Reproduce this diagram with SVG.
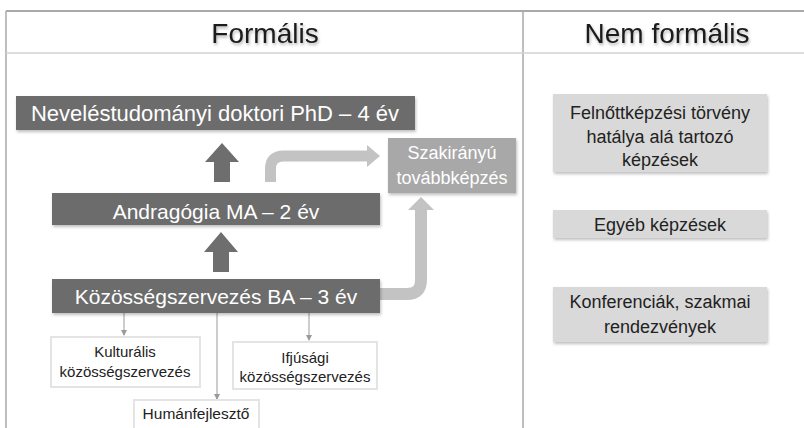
<svg xmlns="http://www.w3.org/2000/svg" width="804" height="428" viewBox="0 0 804 428">
<defs>
<style>
text{font-family:"Liberation Sans",Arial,sans-serif;text-anchor:middle}
.hd{font-size:28px;fill:#1a1a1a}
.dk{fill:#6c6c6c}
.wt{fill:#ffffff}
.lt{fill:#ffffff;stroke:#e4e4e4;stroke-width:2}
.gr{fill:#d9d9d9}
.md{fill:#a8a8a8}
.tw{fill:#ffffff}
.tb{fill:#222222}
.tl{stroke:#a9a9a9;fill:none}
.bent{fill:none;stroke:#c3c3c3}
.thin{stroke:#9a9a9a;stroke-width:1;fill:none;marker-end:url(#ah)}
</style>
<marker id="ah" viewBox="0 0 6 6" refX="5" refY="3" markerWidth="6" markerHeight="6" orient="auto" markerUnits="userSpaceOnUse">
<path d="M0,0 L6,3 L0,6 Z" fill="#9a9a9a"/>
</marker>
<filter id="sh" x="-5%" y="-20%" width="110%" height="140%">
<feDropShadow dx="1" dy="2" stdDeviation="1.5" flood-color="#000" flood-opacity="0.25"/>
</filter>
<filter id="ts" x="-10%" y="-30%" width="120%" height="160%">
<feDropShadow dx="1" dy="2" stdDeviation="1.5" flood-color="#000" flood-opacity="0.3"/>
</filter>
</defs>
<rect width="804" height="428" fill="#ffffff"/>
<g id="table">
<line class="tl" x1="6" y1="11" x2="804" y2="11" stroke-width="2"/>
<line class="tl" x1="6" y1="11" x2="6" y2="428" stroke-width="1.5"/>
<line class="tl" x1="523" y1="11" x2="523" y2="428" stroke-width="1.5"/>
<line x1="6" y1="53" x2="804" y2="53" stroke="#d2d2d2" stroke-width="1.5"/>
<text class="hd" x="265" y="43" filter="url(#ts)">Formális</text>
<text class="hd" x="667" y="43" filter="url(#ts)">Nem formális</text>
</g>
<g id="connectors">
<polygon fill="#6e6e6e" points="222,143 205,162 214,162 214,182 230,182 230,162 239,162"/>
<polygon fill="#6e6e6e" points="221,232 204,252 213,252 213,272 229,272 229,252 238,252"/>
<path class="bent" stroke-width="11" d="M270.5,182 V169 Q270.5,156 283.5,156 H369"/>
<polygon fill="#c3c3c3" points="367,145 380,156 367,167"/>
<path class="bent" stroke-width="12" d="M380,294 H407 Q421,294 421,280 V209"/>
<polygon fill="#c3c3c3" points="408,210 421,197 434,210"/>
<line class="thin" x1="124" y1="313" x2="124" y2="335"/>
<line class="thin" x1="217" y1="313" x2="217" y2="399"/>
<line class="thin" x1="309" y1="313" x2="309" y2="340"/>
</g>
<g id="phd">
<rect class="dk" x="16" y="96" width="399" height="34" filter="url(#sh)"/>
<text class="tw" x="215" y="121" font-size="22">Neveléstudományi doktori PhD – 4 év</text>
</g>
<g id="ma">
<rect class="dk" x="52" y="193" width="328" height="32" filter="url(#sh)"/>
<text class="tw" x="216" y="219" font-size="21">Andragógia MA – 2 év</text>
</g>
<g id="ba">
<rect class="dk" x="52" y="279" width="328" height="34" filter="url(#sh)"/>
<text class="tw" x="216" y="304" font-size="21">Közösségszervezés BA – 3 év</text>
</g>
<g id="szakiranyu">
<rect class="md" x="388" y="138" width="128" height="55" filter="url(#sh)"/>
<text class="tw" x="452" y="159" font-size="18">Szakirányú</text>
<text class="tw" x="452" y="184" font-size="18">továbbképzés</text>
</g>
<g id="kulturalis">
<rect class="lt" x="51" y="337" width="149" height="50"/>
<text class="tb" x="125" y="357" font-size="15">Kulturális</text>
<text class="tb" x="125" y="377" font-size="15">közösségszervezés</text>
</g>
<g id="ifjusagi">
<rect class="lt" x="233" y="342" width="144" height="47"/>
<text class="tb" x="305" y="363" font-size="15">Ifjúsági</text>
<text class="tb" x="305" y="382" font-size="15">közösségszervezés</text>
</g>
<g id="humanfejleszto">
<rect class="lt" x="134" y="400" width="125" height="32"/>
<text class="tb" x="196" y="419" font-size="15.5">Humánfejlesztő</text>
</g>
<g id="felnottkepzesi">
<rect class="gr" x="553" y="94" width="214" height="78" filter="url(#sh)"/>
<text class="tb" x="660" y="119" font-size="18">Felnőttképzési törvény</text>
<text class="tb" x="660" y="143" font-size="18">hatálya alá tartozó</text>
<text class="tb" x="660" y="166" font-size="18">képzések</text>
</g>
<g id="egyeb">
<rect class="gr" x="553" y="210" width="214" height="28" filter="url(#sh)"/>
<text class="tb" x="660" y="231" font-size="18">Egyéb képzések</text>
</g>
<g id="konferenciak">
<rect class="gr" x="553" y="287" width="214" height="55" filter="url(#sh)"/>
<text class="tb" x="660" y="308" font-size="18">Konferenciák, szakmai</text>
<text class="tb" x="660" y="333" font-size="18">rendezvények</text>
</g>
</svg>
